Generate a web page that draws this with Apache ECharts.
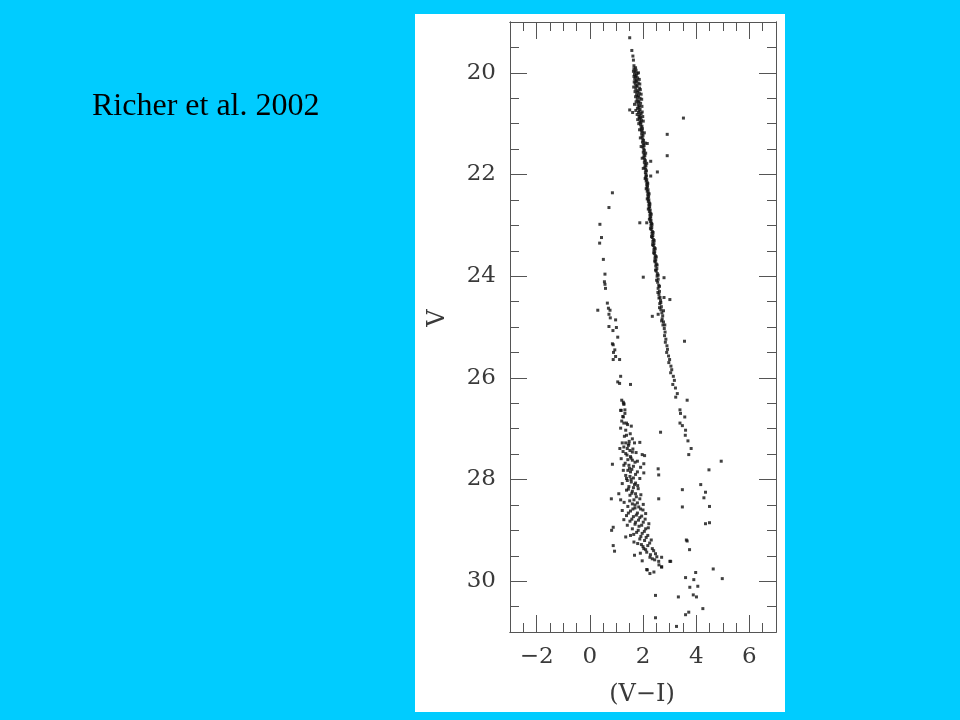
<!DOCTYPE html>
<html><head><meta charset="utf-8">
<script src="https://cdn.jsdelivr.net/npm/echarts@6/dist/echarts.min.js"></script>
<style>html,body{margin:0;padding:0;background:#00CCFF}#c{width:960px;height:720px}</style>
</head><body><div id="c"></div>
<script>
// Colour-magnitude diagram, Richer et al. 2002 — points are [V-I, V]
const titleText = 'Richer et al. 2002';
const xAxisName = '(V\u2212I)';
const yAxisName = 'V';
const xMajorTicks = [-2, 0, 2, 4, 6];
const xMinorTicks = [-2.5, -1.5, -1, -0.5, 0.5, 1, 1.5, 2.5, 3, 3.5, 4.5, 5, 5.5, 6.5];
const yMajorTicks = [20, 22, 24, 26, 28, 30];
const yMinorTicks = [19.5, 20.5, 21, 21.5, 22.5, 23, 23.5, 24.5, 25, 25.5, 26.5, 27, 27.5, 28.5, 29, 29.5, 30.5];

const mainSequence = [
[1.50,19.31],[1.58,19.56],[1.62,19.67],[1.64,19.75],[1.66,19.86],[1.72,19.90],
[1.66,19.92],[1.74,19.95],[1.70,19.98],[1.78,20.01],[1.68,20.03],[1.75,20.05],[1.72,20.08],[1.80,20.10],[1.69,20.12],[1.76,20.15],[1.73,20.17],[1.82,20.20],[1.71,20.22],[1.78,20.25],[1.75,20.27],[1.87,20.30],[1.73,20.32],[1.81,20.35],[1.78,20.38],[1.86,20.40],[1.76,20.43],[1.83,20.45],[1.80,20.48],[1.89,20.50],[1.78,20.53],[1.85,20.56],[1.82,20.58],[1.91,20.60],[1.81,20.63],[1.87,20.65],[1.84,20.68],[1.79,20.70],[1.89,20.72],[1.86,20.75],[1.83,20.78],[1.93,20.80],[1.88,20.83],[1.85,20.86],[1.91,20.88],[1.87,20.90],[1.94,20.93],[1.89,20.96],[1.92,20.98],
[1.64,19.97],[1.83,20.00],[1.66,20.07],[1.86,20.13],[1.67,20.18],[1.88,20.22],[1.65,20.28],[1.90,20.33],[1.70,20.37],[1.93,20.42],[1.72,20.47],[1.95,20.52],[1.74,20.57],[1.68,20.62],[1.96,20.66],[1.73,20.74],[1.97,20.77],[1.78,20.82],[1.99,20.86],[1.80,20.92],[2.01,20.95],[1.84,21.00],[1.87,21.12],[2.05,21.18],[1.90,21.28],[2.08,21.38],[1.93,21.45],[2.10,21.58],[1.97,21.68],[2.14,21.78],[2.01,21.88],
[1.91,21.02],[1.96,21.05],[1.93,21.08],[1.98,21.10],[1.94,21.13],[1.97,21.16],[1.95,21.20],[2.00,21.23],[1.96,21.26],[1.99,21.30],[2.02,21.33],[1.98,21.36],[2.01,21.40],[2.04,21.43],[2.00,21.46],[2.03,21.50],[2.05,21.53],[2.01,21.56],[2.04,21.60],[2.07,21.63],[2.03,21.66],[2.06,21.70],[2.09,21.73],[2.05,21.76],[2.08,21.80],[2.11,21.83],[2.07,21.86],[2.10,21.90],[2.13,21.93],[2.09,21.96],
[2.11,22.00],[2.13,22.03],[2.10,22.06],[2.14,22.10],[2.12,22.13],[2.16,22.16],[2.14,22.20],[2.17,22.23],[2.15,22.26],[2.19,22.30],[2.16,22.33],[2.20,22.36],[2.18,22.40],[2.21,22.43],[2.19,22.46],[2.22,22.50],[2.20,22.53],[2.24,22.56],[2.22,22.60],[2.25,22.63],[2.23,22.66],[2.27,22.70],[2.24,22.73],[2.28,22.76],[2.26,22.80],[2.29,22.83],[2.27,22.86],[2.30,22.90],[2.28,22.93],[2.32,22.96],
[2.08,22.08],[2.18,22.18],[2.12,22.28],[2.23,22.38],[2.16,22.48],[2.26,22.58],[2.20,22.68],[2.31,22.78],[2.24,22.88],[2.34,22.98],[2.28,23.06],[2.38,23.14],[2.32,23.22],[2.42,23.30],[2.36,23.38],[2.46,23.46],[2.40,23.54],[2.50,23.62],[2.44,23.70],[2.53,23.78],[2.47,23.88],[2.57,23.98],[2.51,24.08],[2.62,24.20],[2.56,24.32],[2.67,24.52],[2.62,24.62],[2.77,24.68],[2.70,24.88],[2.82,24.96],
[2.30,23.00],[2.33,23.04],[2.31,23.08],[2.35,23.12],[2.34,23.16],[2.37,23.20],[2.35,23.24],[2.39,23.28],[2.37,23.32],[2.41,23.36],[2.39,23.40],[2.43,23.44],[2.41,23.48],[2.44,23.52],[2.43,23.56],[2.47,23.60],[2.45,23.64],[2.48,23.68],[2.46,23.72],[2.50,23.76],[2.48,23.80],[2.52,23.85],[2.50,23.90],[2.54,23.95],
[2.53,24.00],[2.57,24.06],[2.55,24.12],[2.59,24.18],[2.57,24.24],[2.62,24.30],[2.60,24.36],[2.64,24.42],[2.66,24.48],[2.63,24.54],[2.69,24.60],[2.67,24.66],[2.71,24.72],[2.74,24.78],[2.72,24.84],[2.77,24.90],[2.75,24.96],
[2.80,25.03],[2.83,25.10],[2.81,25.17],[2.86,25.24],[2.84,25.30],[2.90,25.37],[2.92,25.44],[2.89,25.50],[2.96,25.57],[3.00,25.64],[2.97,25.70],[3.05,25.77],[3.08,25.84],[3.04,25.90],[3.14,25.97],
[3.18,26.05],[3.12,26.13],[3.22,26.20],[3.29,26.31],[3.23,26.38],[3.39,26.63],[3.41,26.70],[3.57,26.77],[3.39,26.89],[3.48,26.94],[3.60,27.03],[3.59,27.13],[3.69,27.24],[3.81,27.39],[3.72,27.51]
];

const whiteDwarfs = [
[0.85,22.36],[0.72,22.65],[0.38,22.98],[0.44,23.24],[0.37,23.35],[0.51,23.67],[0.57,23.96],[0.55,24.11],[0.57,24.16],[0.59,24.24],[0.66,24.53],[0.30,24.67],[0.70,24.63],[0.76,24.67],[0.72,24.75],[0.77,24.82],[0.97,24.86],[0.72,24.99],[1.00,25.01],[0.87,25.07],[1.05,25.20],[0.85,25.33],[0.88,25.35],[0.94,25.45],[0.89,25.50],[0.97,25.58],[0.88,25.64],[1.12,25.64],[1.16,25.97],[1.05,26.08],[1.12,26.11],[1.53,26.13],[1.20,26.44],[1.26,26.48],[1.28,26.51],[1.16,26.64],[1.32,26.63],[1.26,26.77],
[1.28,26.52],[1.18,26.64],[1.24,26.76],[1.28,26.89],[1.38,26.89],[1.56,26.95],[1.16,26.99],[1.35,27.03],[1.38,27.13],[1.22,27.28],[1.35,27.28],[1.47,27.30],[1.68,27.28],[1.88,27.27],[1.13,27.39],[1.28,27.36],[1.41,27.39],[1.51,27.43],[1.60,27.46],[1.35,27.49],[1.97,27.51],[1.53,27.55],[2.06,27.53],[1.18,27.59],[1.43,27.61],[1.60,27.62],[1.79,27.64],[2.03,27.69],[0.85,27.70],[1.28,27.72],[1.47,27.72],[1.64,27.74],[1.91,27.76],[1.26,27.82],[1.43,27.82],[1.53,27.85],[1.79,27.85],[2.03,27.87],[1.35,27.92],[1.51,27.94],[1.64,27.97],[1.88,27.98],[1.41,28.02],[1.56,28.05],[1.72,28.07],[1.22,28.08],[1.47,28.14],[1.64,28.16],[1.82,28.18],[1.38,28.21],[1.60,28.23],[1.09,28.28],[1.72,28.28],[1.51,28.31],[0.81,28.38],[1.16,28.40],[1.66,28.40],[1.88,28.38],[1.29,28.45],[1.60,28.48],[1.79,28.46],[2.01,28.49],[1.43,28.53],[1.70,28.56],[1.91,28.58],[1.22,28.61],[1.53,28.62],[1.79,28.66],[2.10,28.67],[1.38,28.71],[1.64,28.73],[1.88,28.75],[1.28,28.79],[1.51,28.82],[1.72,28.84],[2.01,28.84],[2.22,28.87],[1.41,28.90],[1.85,28.92],[1.60,28.97],[2.10,28.97],[0.88,28.94],[0.82,29.00],[1.76,29.04],[1.97,29.06],[1.53,29.10],[2.18,29.10],[1.35,29.13],[1.88,29.17],[2.06,29.20],[2.31,29.19],[1.66,29.23],[1.94,29.28],[2.18,29.30],[0.88,29.30],[2.03,29.36],[2.35,29.36],[0.93,29.41],[2.14,29.43],[2.47,29.46],[1.68,29.49],[2.26,29.53],[2.70,29.53],[2.44,29.58],[3.01,29.61],[2.59,29.61],[2.70,29.72],[2.16,29.78],
[1.45,27.33],[1.62,27.40],[1.74,27.47],[1.40,27.52],[1.55,27.58],[1.70,27.66],[1.33,27.68],[1.49,27.78],[1.58,27.80],[1.72,27.90],[1.38,27.98],[1.55,28.00],[1.68,28.10],[1.80,28.12],[1.45,28.19],[1.58,28.27],[1.75,28.34],[1.92,28.30],[1.50,28.42],[1.70,28.50],[1.84,28.54],[2.00,28.60],[1.62,28.58],[1.45,28.66],[1.75,28.70],[1.95,28.72],[1.58,28.78],[1.83,28.80],[2.08,28.78],[1.70,28.88],[1.95,28.90],[2.20,28.95],[1.82,29.00],[2.05,29.02],[1.65,29.08],[1.92,29.12],[2.12,29.14],[2.25,29.25],[1.80,29.26],[2.00,29.32],[2.40,29.40],[2.10,29.38],[2.28,29.48],[1.90,29.45],[2.35,29.56],[2.52,29.52],[1.97,29.60],[2.60,29.68],[1.60,27.20],[1.25,27.45],[1.48,27.25],[1.30,27.15],[1.42,26.92],[1.20,26.85],[1.32,26.70],[1.52,27.10]
];

const fieldStars = [
[3.52,20.89],[2.91,21.21],[2.91,21.63],[2.54,21.95],[2.29,21.74],[2.29,22.03],[2.16,21.39],[1.50,20.73],[1.61,20.78],[1.88,22.95],[2.14,22.95],[2.01,24.02],[2.79,24.03],[3.01,24.46],[2.79,24.42],[2.60,24.43],[2.57,24.75],[2.35,24.79],[3.56,25.28],[3.66,26.44],[2.66,27.07],
[4.94,27.64],[4.48,27.81],[4.17,28.10],[4.35,28.25],[4.29,28.36],[4.50,28.53],[3.48,28.20],[3.48,28.54],[4.35,28.87],[4.50,28.85],[2.57,27.79],[2.59,27.91],[2.59,28.38],[3.63,29.19],[3.66,29.21],[3.75,29.38],[3.04,29.61],[4.64,29.76],[3.98,29.83],[3.60,29.93],[3.91,29.97],[4.98,29.95],[3.76,30.12],[4.06,30.10],[3.89,30.27],[4.01,30.31],[3.33,30.31],[2.47,30.28],[4.25,30.54],[3.72,30.61],[3.60,30.66],[2.47,30.72],[3.26,30.89],[2.14,29.77],[2.26,29.85],[2.41,29.82],[2.70,29.72]
];

const chart = echarts.init(document.getElementById('c'), null, {renderer: 'canvas'});
const frame = '#555';
const labelFont = {fontFamily: 'DejaVu Serif', fontSize: 23, color: '#3a3a3a'};
const minus = v => (v < 0 ? '\u2212' + (-v) : String(v));

function xAx(grid, pos, ticks, len, labels) {
  return {
    type: 'value', gridIndex: grid, position: pos, min: -3, max: 7,
    axisLine: {show: true, onZero: false, lineStyle: {color: frame, width: 1}},
    axisTick: {show: true, inside: true, length: len, customValues: ticks, lineStyle: {color: frame, width: 1}},
    axisLabel: labels ? Object.assign({show: true, margin: 14, customValues: ticks, formatter: minus}, labelFont) : {show: false},
    splitLine: {show: false}
  };
}
function yAx(grid, pos, ticks, len, labels) {
  return {
    type: 'value', gridIndex: grid, position: pos, min: 19, max: 31, inverse: true,
    axisLine: {show: true, onZero: false, lineStyle: {color: frame, width: 1}},
    axisTick: {show: true, inside: true, length: len, customValues: ticks, lineStyle: {color: frame, width: 1}},
    axisLabel: labels ? Object.assign({show: true, margin: 14, customValues: ticks}, labelFont) : {show: false},
    splitLine: {show: false}
  };
}

const gridRect = {left: 510, top: 22, width: 266, height: 610, containLabel: false};
const pointStyle = {symbol: 'rect', symbolSize: 3, itemStyle: {color: '#111'}, silent: true, animation: false};

chart.setOption({
  backgroundColor: '#00CCFF',
  animation: false,
  grid: [Object.assign({}, gridRect), Object.assign({}, gridRect)],
  xAxis: [
    xAx(0, 'bottom', xMajorTicks, 17, true),
    xAx(0, 'top', xMajorTicks, 17, false),
    xAx(1, 'bottom', xMinorTicks, 9, false),
    xAx(1, 'top', xMinorTicks, 9, false)
  ],
  yAxis: [
    yAx(0, 'left', yMajorTicks, 17, true),
    yAx(0, 'right', yMajorTicks, 17, false),
    yAx(1, 'left', yMinorTicks, 9, false),
    yAx(1, 'right', yMinorTicks, 9, false)
  ],
  graphic: [
    {type: 'rect', z: -100, shape: {x: 415, y: 14, width: 370, height: 698}, style: {fill: '#ffffff'}},
    {type: 'text', left: 92, top: 91, style: {text: titleText, font: '32px "Liberation Serif"', fill: '#000'}},
    {type: 'text', x: 642, y: 695, style: {text: xAxisName, font: '24px "DejaVu Serif"', fill: '#3a3a3a', align: 'center', verticalAlign: 'middle'}},
    {type: 'text', x: 438, y: 318, rotation: Math.PI / 2, style: {text: yAxisName, font: '24px "DejaVu Serif"', fill: '#3a3a3a', align: 'center', verticalAlign: 'middle'}}
  ],
  series: [
    Object.assign({type: 'scatter', name: 'Main sequence', xAxisIndex: 0, yAxisIndex: 0, data: mainSequence}, pointStyle),
    Object.assign({type: 'scatter', name: 'White dwarfs', xAxisIndex: 0, yAxisIndex: 0, data: whiteDwarfs}, pointStyle),
    Object.assign({type: 'scatter', name: 'Field', xAxisIndex: 0, yAxisIndex: 0, data: fieldStars}, pointStyle)
  ]
});
</script></body></html>
